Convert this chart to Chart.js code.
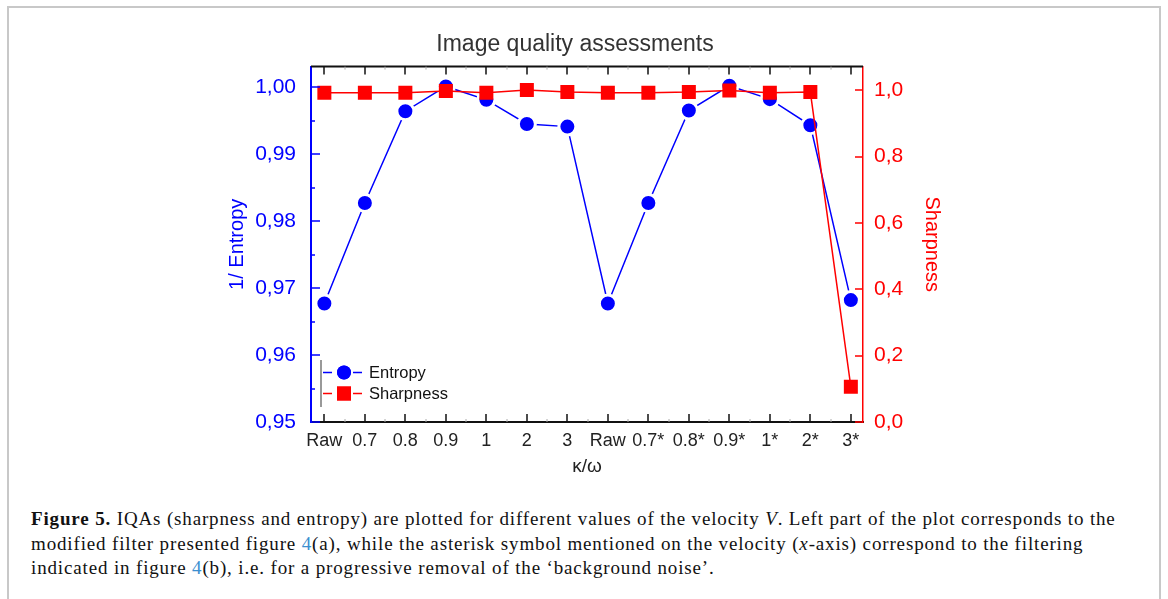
<!DOCTYPE html>
<html><head><meta charset="utf-8">
<script src="https://cdn.jsdelivr.net/npm/chart.js@4/dist/chart.umd.min.js"></script>
<style>
html,body{margin:0;padding:0;background:#fff;}
body{width:1168px;height:599px;position:relative;overflow:hidden;}
#frame{position:absolute;left:7px;top:6px;width:1154px;height:700px;border:2px solid #c8c8c8;box-sizing:border-box;}
#wrap{position:absolute;left:185px;top:20px;width:780px;height:470px;}
#cap{position:absolute;left:31px;top:507px;font-family:"Liberation Serif","Times New Roman",serif;font-size:19px;letter-spacing:0.85px;line-height:24.5px;color:#111;white-space:nowrap;}
#cap b{font-weight:bold;}
.lnk{color:#3b8fd0;}
</style></head>
<body>
<div id="frame"></div>
<div id="wrap"><canvas id="c" width="780" height="470"></canvas></div>
<div id="cap"><b>Figure 5.</b> IQAs (sharpness and entropy) are plotted for different values of the velocity <i>V</i>. Left part of the plot corresponds to the<br>modified filter presented figure <span class="lnk">4</span>(a), while the asterisk symbol mentioned on the velocity (<i>x</i>-axis) correspond to the filtering<br>indicated in figure <span class="lnk">4</span>(b), i.e. for a progressive removal of the ‘background noise’.</div>
<script>
const categories = ['Raw','0.7','0.8','0.9','1','2','3','Raw','0.7*','0.8*','0.9*','1*','2*','3*'];
const entropy = [0.9677,0.9827,0.9964,1.0001,0.9981,0.9945,0.9941,0.9677,0.9827,0.9965,1.0002,0.9982,0.9943,0.9682];
const sharpness = [0.993,0.993,0.993,0.998,0.993,1.001,0.995,0.993,0.993,0.995,1.000,0.993,0.995,0.106];
const leftTicks = [0.95,0.96,0.97,0.98,0.99,1.00];
const rightTicks = [0.0,0.2,0.4,0.6,0.8,1.0];

const FONT = "'Liberation Sans', Arial, sans-serif";

const innerTicks = {
  id: 'innerTicks',
  afterDraw(chart) {
    const {ctx, chartArea: a, scales} = chart;
    const x = scales.x, y = scales.y, y2 = scales.y2;
    ctx.save();
    ctx.strokeStyle = '#111';
    ctx.lineWidth = 2;
    ctx.beginPath(); ctx.moveTo(a.left, a.top); ctx.lineTo(a.right, a.top); ctx.stroke();
    ctx.lineWidth = 1.5;
    ctx.beginPath();
    categories.forEach((c, i) => {
      const px = Math.round(x.getPixelForValue(i));
      ctx.moveTo(px, a.bottom); ctx.lineTo(px, a.bottom - 8);
      ctx.moveTo(px, a.top); ctx.lineTo(px, a.top + 8);
    });
    ctx.stroke();
    ctx.lineWidth = 1;
    ctx.strokeStyle = '#aaa';
    ctx.beginPath();
    for (let i = 0; i < categories.length - 1; i++) {
      const px = Math.round(x.getPixelForValue(i + 0.5));
      ctx.moveTo(px, a.bottom); ctx.lineTo(px, a.bottom - 3);
      ctx.moveTo(px, a.top); ctx.lineTo(px, a.top + 3);
    }
    ctx.stroke();
    ctx.strokeStyle = '#0000ff';
    ctx.lineWidth = 1.5;
    ctx.beginPath();
    leftTicks.forEach((v, i) => {
      const py = Math.round(y.getPixelForValue(v));
      ctx.moveTo(a.left, py); ctx.lineTo(a.left + 9, py);
      if (i < leftTicks.length - 1) {
        const pm = Math.round(y.getPixelForValue((v + leftTicks[i + 1]) / 2));
        ctx.moveTo(a.left, pm); ctx.lineTo(a.left + 4, pm);
      }
    });
    ctx.stroke();
    ctx.strokeStyle = '#ff0000';
    ctx.beginPath();
    rightTicks.forEach(v => {
      const py = Math.round(y2.getPixelForValue(v));
      ctx.moveTo(a.right, py); ctx.lineTo(a.right - 8, py);
    });
    ctx.stroke();
    // legend
    const ds = chart.data.datasets;
    ctx.strokeStyle = '#555';
    ctx.lineWidth = 1.2;
    ctx.beginPath(); ctx.moveTo(a.left + 10, 340); ctx.lineTo(a.left + 10, 387); ctx.stroke();
    const rows = [{d: ds[0], y: 352.5, r: 7}, {d: ds[1], y: 373.5, r: 9.9}];
    rows.forEach(r => {
      const cx = a.left + 33;
      ctx.strokeStyle = r.d.borderColor;
      ctx.lineWidth = 1.5;
      ctx.beginPath();
      ctx.moveTo(a.left + 12, r.y); ctx.lineTo(a.left + 21, r.y);
      ctx.moveTo(a.left + 42, r.y); ctx.lineTo(a.left + 51, r.y);
      ctx.stroke();
      ctx.fillStyle = r.d.pointBackgroundColor;
      Chart.helpers.drawPoint(ctx, {pointStyle: r.d.pointStyle, radius: r.r, borderWidth: 0}, cx, r.y);
      ctx.fill();
      ctx.fillStyle = '#111';
      ctx.font = '16.5px ' + FONT;
      ctx.textBaseline = 'middle';
      ctx.textAlign = 'left';
      ctx.fillText(r.d.label, a.left + 58, r.y + 1);
    });
    ctx.restore();
  }
};

new Chart(document.getElementById('c'), {
  type: 'line',
  data: {
    datasets: [
      {
        label: 'Entropy',
        data: entropy.map((v, i) => ({x: i, y: v})),
        yAxisID: 'y',
        borderColor: '#0000ff',
        backgroundColor: '#0000ff',
        borderWidth: 1.5,
        pointStyle: 'circle',
        pointRadius: 8.5,
        pointBorderWidth: 3,
        pointBorderColor: '#ffffff',
        pointBackgroundColor: '#0000ff',
        order: 1,
        tension: 0
      },
      {
        label: 'Sharpness',
        data: sharpness.map((v, i) => ({x: i, y: v})),
        yAxisID: 'y2',
        borderColor: '#ff0000',
        backgroundColor: '#ff0000',
        borderWidth: 1.5,
        pointStyle: 'rect',
        pointRadius: 9.9,
        pointBorderWidth: 0,
        pointBackgroundColor: '#ff0000',
        order: 0,
        tension: 0
      }
    ]
  },
  options: {
    responsive: false,
    animation: false,
    events: [],
    layout: {padding: 0},
    plugins: {
      legend: {display: false},
      tooltip: {enabled: false},
      title: {
        display: true,
        text: 'Image quality assessments',
        color: '#333',
        font: {family: FONT, size: 23, weight: 'normal'},
        padding: {top: 11, bottom: 8}
      }
    },
    scales: {
      x: {
        type: 'linear',
        position: 'bottom',
        min: -0.33,
        max: 13.3,
        afterBuildTicks: s => { s.ticks = categories.map((c, i) => ({value: i})); },
        afterFit: s => { s.height = 68; },
        grid: {display: false, drawTicks: false},
        border: {display: true, color: '#111', width: 2},
        ticks: {
          callback: v => categories[v],
          autoSkip: false, maxRotation: 0, minRotation: 0,
          color: '#222', padding: 8,
          font: {family: FONT, size: 18}
        },
        title: {
          display: true, text: 'κ/ω', color: '#222',
          font: {family: FONT, size: 19},
          padding: {top: 0, bottom: 12}
        }
      },
      y: {
        type: 'linear',
        position: 'left',
        min: 0.95,
        max: 1.00306,
        afterBuildTicks: s => { s.ticks = leftTicks.map(v => ({value: v})); },
        afterFit: s => { s.width = 126; },
        grid: {display: false, drawTicks: false},
        border: {display: true, color: '#0000ff', width: 2},
        ticks: {
          callback: v => v.toFixed(2).replace('.', ','),
          color: '#0000ff', padding: 15,
          font: {family: FONT, size: 21}
        },
        title: {
          display: true, text: '1/ Entropy', color: '#0000ff',
          font: {family: FONT, size: 20},
          padding: {top: 40, bottom: 0}
        }
      },
      y2: {
        type: 'linear',
        position: 'right',
        min: 0,
        max: 1.0717,
        afterBuildTicks: s => { s.ticks = rightTicks.map(v => ({value: v})); },
        afterFit: s => { s.width = 102; },
        grid: {display: false, drawTicks: false},
        border: {display: true, color: '#ff0000', width: 1.5},
        ticks: {
          callback: v => v.toFixed(1).replace('.', ','),
          color: '#ff0000', padding: 11,
          font: {family: FONT, size: 21}
        },
        title: {
          display: true, text: 'Sharpness', color: '#ff0000',
          font: {family: FONT, size: 20},
          padding: {top: 21, bottom: 0}
        }
      }
    }
  },
  plugins: [innerTicks]
});
</script>
</body></html>
